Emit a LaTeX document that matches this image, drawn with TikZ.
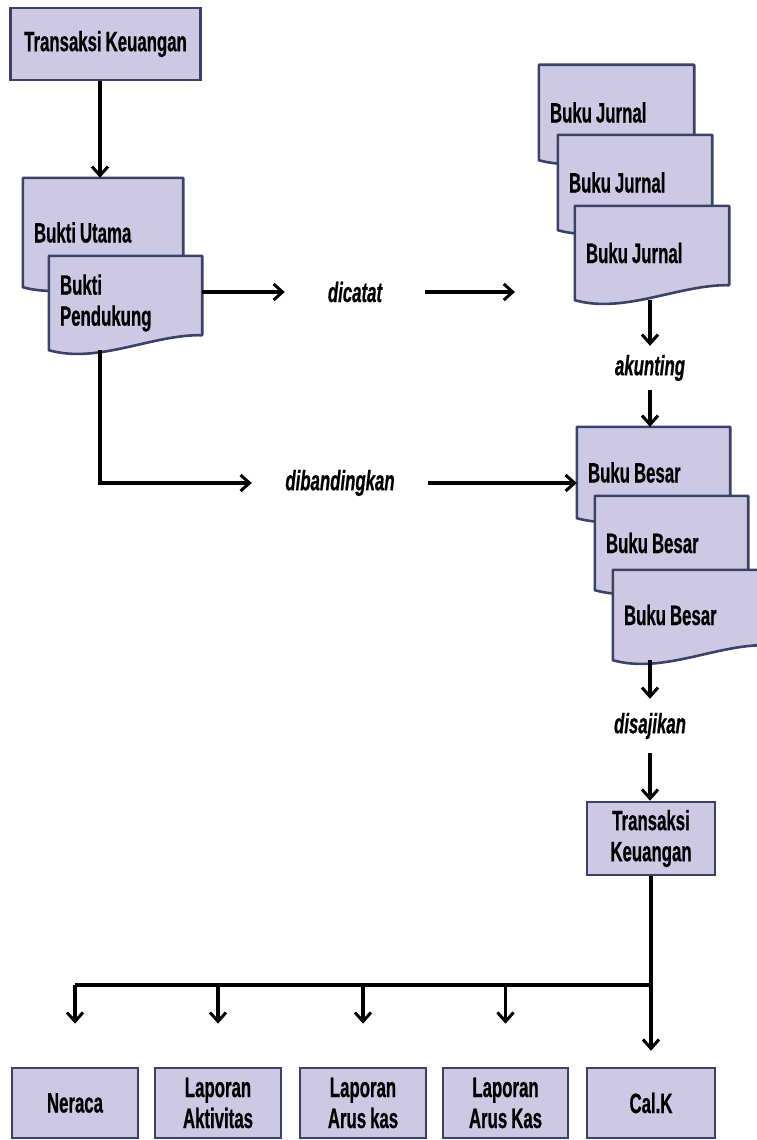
\documentclass[tikz,border=0pt]{standalone}
\usepackage{fontspec}
\setmainfont{Liberation Sans}[FakeStretch=0.6,WordSpace=0.85,FakeBold=0.6]
\usetikzlibrary{arrows.meta,backgrounds}
\definecolor{boxfill}{RGB}{205,201,229}
\definecolor{boxline}{RGB}{58,66,104}
\tikzset{
  txt/.style={font=\bfseries\fontsize{28}{31}\selectfont,text=black},
  rbox/.style={txt,draw=boxline,fill=boxfill,line width=2.6pt,align=center,inner sep=2pt},
  docbox/.style={txt,align=flush left,inner xsep=11pt,inner ysep=0pt},
  lbl/.style={font=\bfseries\itshape\fontsize{28}{31}\selectfont,text=black,inner sep=0pt},
  arr/.style={line width=3.4pt,-{Straight Barb[length=9pt,width=16pt,line width=3pt]}},
  bus/.style={line width=3.4pt}
}
\newcommand{\docshape}[1]{%
  \begin{pgfonlayer}{background}
  \filldraw[draw=boxline,fill=boxfill,line width=2.6pt,line join=round]
    (#1.north west) -- (#1.north east) -- ([yshift=15pt]#1.south east)
    .. controls ([xshift=-50pt,yshift=16pt]#1.south east) and ([xshift=50pt,yshift=-14pt]#1.south west) .. (#1.south west) -- cycle;
  \end{pgfonlayer}}
\begin{document}
\begin{tikzpicture}[x=1pt,y=-1pt]
\useasboundingbox (0,0) rectangle (757,1140);

\node[rbox,minimum width=190pt,minimum height=72pt] (trans) at (105.5,44) {Transaksi Keuangan};

% bukti
\node[docbox,text width=138pt,minimum height=109pt] (bu) at (103,232.5) {Bukti Utama};
\docshape{bu}
\node[docbox,text width=131pt,minimum height=94pt] (bp) at (125.5,303) {Bukti\\Pendukung};
\docshape{bp}

% buku jurnal
\node[docbox,text width=133pt,minimum height=95pt] (bj1) at (616.5,112.5) {Buku Jurnal};
\docshape{bj1}
\node[docbox,text width=132pt,minimum height=95pt] (bj2) at (635,182.5) {Buku Jurnal};
\docshape{bj2}
\node[docbox,text width=132pt,minimum height=94pt] (bj3) at (652,253) {Buku Jurnal};
\docshape{bj3}

% buku besar
\node[docbox,text width=131pt,minimum height=91pt] (bb1) at (653.5,472.5) {Buku Besar};
\docshape{bb1}
\node[docbox,text width=131pt,minimum height=94pt] (bb2) at (671.5,543) {Buku Besar};
\docshape{bb2}
\node[docbox,text width=131pt,minimum height=90pt] (bb3) at (689.5,615) {Buku Besar};
\docshape{bb3}

\node[rbox,minimum width=128pt,minimum height=73pt] (tk2) at (651,838.5) {Transaksi\\Keuangan};

% laporan
\node[rbox,minimum width=126pt,minimum height=70pt] (neraca) at (75,1103) {Neraca};
\node[rbox,minimum width=126pt,minimum height=70pt] (aktivitas) at (218,1103) {Laporan\\Aktivitas};
\node[rbox,minimum width=126pt,minimum height=70pt] (aruskas) at (363,1103) {Laporan\\Arus kas};
\node[rbox,minimum width=125pt,minimum height=70pt] (arusKas) at (505.5,1103) {Laporan\\Arus Kas};
\node[rbox,minimum width=128pt,minimum height=70pt] (calk) at (651,1103) {Cal.K};

% kata kerja
\node[lbl,minimum width=140pt] (dicatat) at (355,292) {dicatat};
\node[lbl,minimum width=176pt] (banding) at (340,483) {dibandingkan};
\node[lbl,minimum height=44pt] (akunting) at (650,368) {akunting};
\node[lbl,minimum height=54pt] (saji) at (650,726) {disajikan};

\coordinate (colA) at (100,0);
\coordinate (catatEnd) at (515,292);
\coordinate (busY) at (0,985);

\draw[arr] (trans.south -| colA) -- (bu.north -| colA);
\draw[arr] (bp.east |- dicatat) -- (dicatat.west);
\draw[arr] (dicatat.east) -- (catatEnd);
\draw[arr] (bp.south -| colA) |- (banding.west);
\draw[arr] (banding.east) -- (bb1.west |- banding);
\draw[arr] (bj3.south -| akunting) -- (akunting.north);
\draw[arr] (akunting.south) -- (bb1.north -| akunting);
\draw[arr] (bb3.south -| saji) -- (saji.north);
\draw[arr] (saji.south) -- (tk2.north -| saji);

%%%%%%%%%%%%%%%%%%%%%%%%%%%%%%%%%%%%%%%%
\draw[arr] (tk2.south) -- ([yshift=16pt]calk.north);
\draw[bus] (neraca.north |- busY) -- (tk2.south |- busY);
\foreach \n in {neraca,aktivitas,aruskas,arusKas}
  \draw[arr] (\n.north |- busY) -- ([yshift=43pt]\n.north);
\end{tikzpicture}
\end{document}
